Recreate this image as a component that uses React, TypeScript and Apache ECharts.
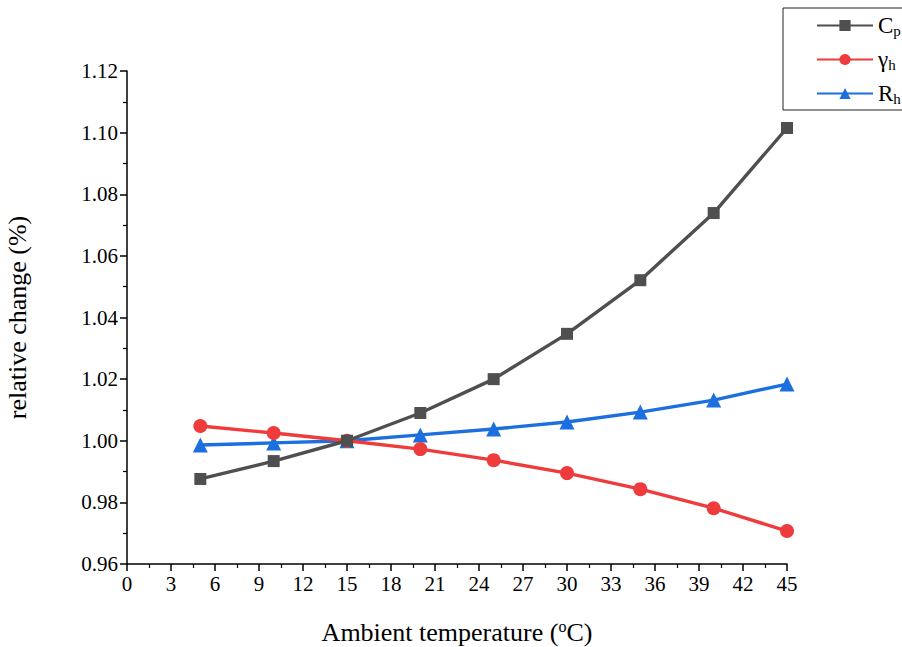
import React, { useEffect, useRef } from "react";
import * as echarts from "echarts";

const temps = [5, 10, 15, 20, 25, 30, 35, 40, 45];
const cpValues = [0.9876, 0.9934, 1.0, 1.009, 1.02, 1.0347, 1.0521, 1.0739, 1.1015];
const gammaValues = [1.0048, 1.0025, 1.0, 0.9973, 0.9937, 0.9895, 0.9843, 0.9781, 0.9707];
const rhValues = [0.9986, 0.9993, 1.0, 1.0019, 1.0038, 1.0061, 1.0093, 1.0132, 1.0184];
const seriesNames = ["Cp", "γh", "Rh"];
const legendLabels: Record<string, [string, string]> = {
  Cp: ["C", "p"],
  "γh": ["γ", "h"],
  Rh: ["R", "h"],
};

const FONT = "'Liberation Serif', 'DejaVu Serif', serif";

export default function App() {
  const ref = useRef<HTMLDivElement>(null);
  useEffect(() => {
    document.body.style.margin = "0";
    document.body.style.overflow = "hidden";
    const chart = echarts.init(ref.current!, undefined, { renderer: "svg" });
    const mk = (vals: number[]) => temps.map((t, i) => [t, vals[i]]);
    const colors = ["#4f4f4f", "#ef3b3b", "#1c6fde"];
    const symbols = ["rect", "circle", "triangle"];
    const sizes = [12, 14, 15];
    const datas = [cpValues, gammaValues, rhValues];
    chart.setOption({
      animation: false,
      backgroundColor: "#ffffff",
      textStyle: { fontFamily: FONT },
      grid: {
        left: 127,
        right: 960 - 787,
        top: 71,
        bottom: 83,
        containLabel: false,
        outerBoundsMode: "none",
      },
      legend: {
        left: 783,
        top: 8,
        orient: "vertical",
        backgroundColor: "#fff",
        borderColor: "#222",
        borderWidth: 1,
        borderRadius: 0,
        padding: [6, 30, 4, 33],
        itemWidth: 56,
        itemHeight: 14,
        itemGap: 10,
        data: seriesNames,
        formatter: (name: string) => {
          const [a, b] = legendLabels[name];
          return `{a|${a}}{b|${b}}`;
        },
        textStyle: {
          fontFamily: FONT,
          color: "#000",
          rich: {
            a: { fontFamily: FONT, fontSize: 23, color: "#000" },
            b: { fontFamily: FONT, fontSize: 15, color: "#000", padding: [10, 0, 0, 0] },
          },
        },
      },
      xAxis: {
        type: "value",
        min: 0,
        max: 45,
        interval: 3,
        name: "Ambient temperature ({s|o}C)",
        nameLocation: "middle",
        nameGap: 54,
        nameTextStyle: {
          fontFamily: FONT,
          fontSize: 26,
          color: "#000",
          rich: {
            s: { fontFamily: FONT, fontSize: 16, color: "#000", padding: [0, 0, 12, 0] },
          },
        },
        axisLine: { lineStyle: { color: "#000", width: 1.5 } },
        axisTick: { show: true, inside: false, length: 7, lineStyle: { color: "#000", width: 1.5 } },
        minorTick: { show: true, splitNumber: 2, length: 4, lineStyle: { color: "#000", width: 1.2 } },
        axisLabel: { fontFamily: FONT, fontSize: 21, color: "#000", margin: 9 },
        splitLine: { show: false },
      },
      yAxis: {
        type: "value",
        min: 0.96,
        max: 1.12,
        interval: 0.02,
        name: "relative change (%)",
        nameLocation: "middle",
        nameGap: 97,
        nameTextStyle: { fontFamily: FONT, fontSize: 26, color: "#000" },
        axisLine: { show: true, lineStyle: { color: "#000", width: 1.5 } },
        axisTick: { show: true, inside: false, length: 7, lineStyle: { color: "#000", width: 1.5 } },
        minorTick: { show: true, splitNumber: 2, length: 4, lineStyle: { color: "#000", width: 1.2 } },
        axisLabel: {
          fontFamily: FONT,
          fontSize: 21,
          color: "#000",
          margin: 9,
          formatter: (v: number) => v.toFixed(2),
        },
        splitLine: { show: false },
      },
      series: seriesNames.map((n, i) => ({
        name: n,
        type: "line",
        data: mk(datas[i]),
        symbol: symbols[i],
        symbolSize: sizes[i],
        showAllSymbol: true,
        clip: false,
        itemStyle: { color: colors[i] },
        lineStyle: { color: colors[i], width: 3.4 },
        z: 3 - i,
      })),
    });
    return () => chart.dispose();
  }, []);
  return (
    <div style={{ position: "absolute", left: 0, top: 0, width: 902, height: 647, overflow: "hidden" }}>
      <div ref={ref} style={{ width: 960, height: 647 }} />
    </div>
  );
}
